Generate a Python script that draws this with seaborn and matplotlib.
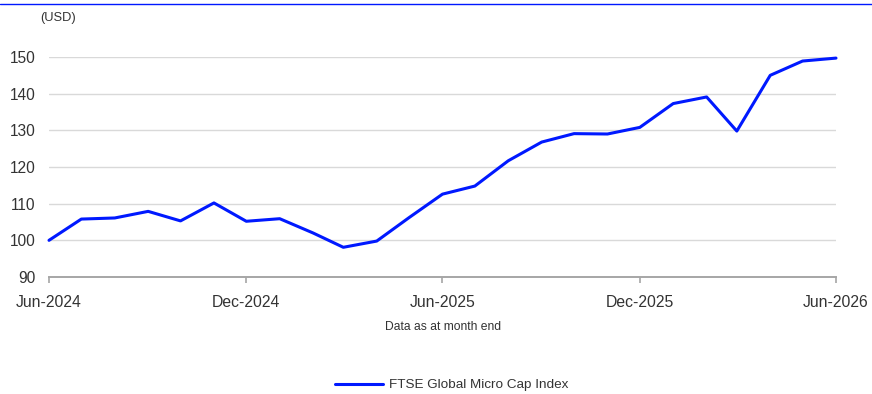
import matplotlib
matplotlib.use("Agg")
import matplotlib.pyplot as plt
import matplotlib.dates as mdates
from matplotlib.lines import Line2D
import seaborn as sns
import pandas as pd

months = ["2024-06", "2024-07", "2024-08", "2024-09", "2024-10", "2024-11", "2024-12",
          "2025-01", "2025-02", "2025-03", "2025-04", "2025-05", "2025-06",
          "2025-07", "2025-08", "2025-09", "2025-10", "2025-11", "2025-12",
          "2026-01", "2026-02", "2026-03", "2026-04", "2026-05", "2026-06"]
values = [100.0, 105.8, 106.1, 107.9, 105.3, 110.2, 105.2,
          105.9, 102.0, 98.1, 99.8, 106.2, 112.6,
          114.8, 121.7, 126.8, 129.1, 129.0, 130.8,
          137.3, 139.1, 129.8, 145.0, 148.9, 149.7]
series_name = "FTSE Global Micro Cap Index"
tick_dates = ["2024-06", "2024-12", "2025-06", "2025-12", "2026-06"]
y_ticks = [90, 100, 110, 120, 130, 140, 150]

sns.set_theme(style="white")
plt.rcParams["font.family"] = ["Liberation Sans", "DejaVu Sans"]

df = pd.DataFrame({"date": pd.to_datetime(months), "value": values, "series": series_name})

fig = plt.figure(figsize=(8.72, 3.94), dpi=100)
ax = fig.add_axes([49 / 872, 1 - 277 / 394, (836 - 49) / 872, (277 - 57) / 394])

sns.lineplot(data=df, x="date", y="value", hue="series", palette=["#0019FF"],
             linewidth=2.2, ax=ax, legend=False, clip_on=False)

ax.set_ylim(90, 150)
ax.set_xlim(pd.Timestamp("2024-06-01"), pd.Timestamp("2026-06-01"))
ax.set_yticks(y_ticks)
ax.set_xticks(pd.to_datetime(tick_dates))
ax.xaxis.set_major_formatter(mdates.DateFormatter("%b-%Y"))
ax.set_xlabel("")
ax.set_ylabel("")

ax.grid(axis="y", color="#d9d9d9", linewidth=1.0)
ax.grid(axis="x", visible=False)
for s in ["left", "right", "top"]:
    ax.spines[s].set_visible(False)
ax.spines["bottom"].set_color("#a6a6a6")
ax.spines["bottom"].set_linewidth(1.4)
ax.tick_params(axis="y", length=0, pad=9.5, labelsize=11.2, labelcolor="#333333")
ax.tick_params(axis="x", length=4, width=1.2, color="#a6a6a6", pad=9,
               labelsize=11.3, labelcolor="#333333", direction="out", bottom=True)

fig.text(40 / 872, 1 - 18 / 394, "(USD)", fontsize=9.3, color="#333333", va="center", ha="left")
fig.text(443 / 872, 1 - 327 / 394, "Data as at month end", fontsize=8.7, color="#333333",
         va="center", ha="center")

# top rule
fig.add_artist(Line2D([0, 1], [1 - 4 / 394, 1 - 4 / 394], color="#0019FF", linewidth=1.0,
                      transform=fig.transFigure))

handle = Line2D([], [], color="#0019FF", linewidth=2.2)
fig.legend([handle], [series_name], loc="center", bbox_to_anchor=(452 / 872, 1 - 385 / 394),
           frameon=False, fontsize=9.7, handlelength=3.55, handletextpad=0.45,
           labelcolor="#333333")

fig.savefig("out.png", dpi=100)
